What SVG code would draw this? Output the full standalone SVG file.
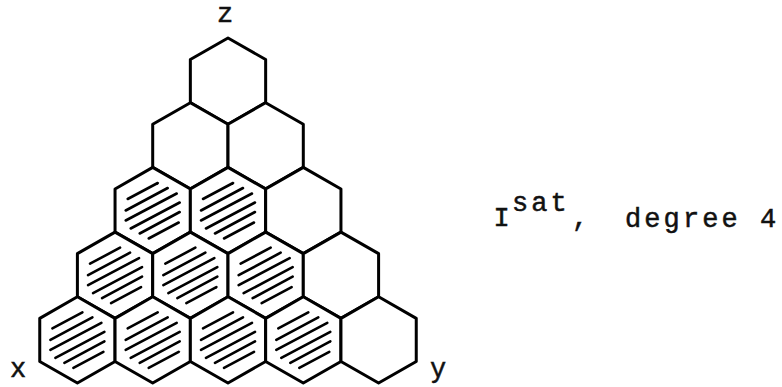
<svg xmlns="http://www.w3.org/2000/svg" xmlns:xlink="http://www.w3.org/1999/xlink" width="782" height="387" viewBox="0 0 782 387">
<style>
.hex{fill:#fff;stroke:#000;stroke-width:3;stroke-linejoin:round}
.hatch line{stroke:#000;stroke-width:2.6;stroke-linecap:round}
.lbl{font-family:"Liberation Mono","Courier New",monospace;font-size:27px;fill:#111;stroke:#111;stroke-width:0.5}
</style>
<defs>
<polygon id="hex" class="hex" points="0,-43.1 37.65,-21.55 37.65,21.55 0,43.1 -37.65,21.55 -37.65,-21.55"/>
<g id="hatch" class="hatch">
<line x1="-25" y1="-11.5" x2="5" y2="-27.5"/>
<line x1="-27" y1="0" x2="15" y2="-22.5"/>
<line x1="-27" y1="10" x2="24" y2="-17"/>
<line x1="-22" y1="18" x2="27" y2="-8"/>
<line x1="-13" y1="23" x2="27" y2="1.5"/>
<line x1="-4" y1="28" x2="26" y2="12"/>
</g>
</defs>
<rect width="782" height="387" fill="#fff"/>
<g id="connectors"/>
<g id="r0c0" transform="translate(228,81.1)"><use xlink:href="#hex"/></g>
<g id="r1c0" transform="translate(190.35,145.8)"><use xlink:href="#hex"/></g>
<g id="r1c1" transform="translate(265.65,145.8)"><use xlink:href="#hex"/></g>
<g id="r2c0" transform="translate(152.7,210.5)"><use xlink:href="#hex"/><use xlink:href="#hatch"/></g>
<g id="r2c1" transform="translate(228,210.5)"><use xlink:href="#hex"/><use xlink:href="#hatch"/></g>
<g id="r2c2" transform="translate(303.3,210.5)"><use xlink:href="#hex"/></g>
<g id="r3c0" transform="translate(115.05,275.2)"><use xlink:href="#hex"/><use xlink:href="#hatch"/></g>
<g id="r3c1" transform="translate(190.35,275.2)"><use xlink:href="#hex"/><use xlink:href="#hatch"/></g>
<g id="r3c2" transform="translate(265.65,275.2)"><use xlink:href="#hex"/><use xlink:href="#hatch"/></g>
<g id="r3c3" transform="translate(340.95,275.2)"><use xlink:href="#hex"/></g>
<g id="r4c0" transform="translate(77.4,339.9)"><use xlink:href="#hex"/><use xlink:href="#hatch"/></g>
<g id="r4c1" transform="translate(152.7,339.9)"><use xlink:href="#hex"/><use xlink:href="#hatch"/></g>
<g id="r4c2" transform="translate(228,339.9)"><use xlink:href="#hex"/><use xlink:href="#hatch"/></g>
<g id="r4c3" transform="translate(303.3,339.9)"><use xlink:href="#hex"/><use xlink:href="#hatch"/></g>
<g id="r4c4" transform="translate(378.6,339.9)"><use xlink:href="#hex"/></g>
<g id="labels">
<text class="lbl" x="225" y="22" text-anchor="middle">z</text>
<text class="lbl" x="18" y="377" text-anchor="middle">x</text>
<text class="lbl" x="438" y="377" text-anchor="middle">y</text>
<text class="lbl" x="501.5" y="226" text-anchor="middle">I</text>
<text class="lbl" x="512" y="211" letter-spacing="3">sat</text>
<text class="lbl" x="580" y="226" text-anchor="middle">,</text>
<text class="lbl" x="625" y="227" letter-spacing="3.1">degree 4</text>
</g>
</svg>
